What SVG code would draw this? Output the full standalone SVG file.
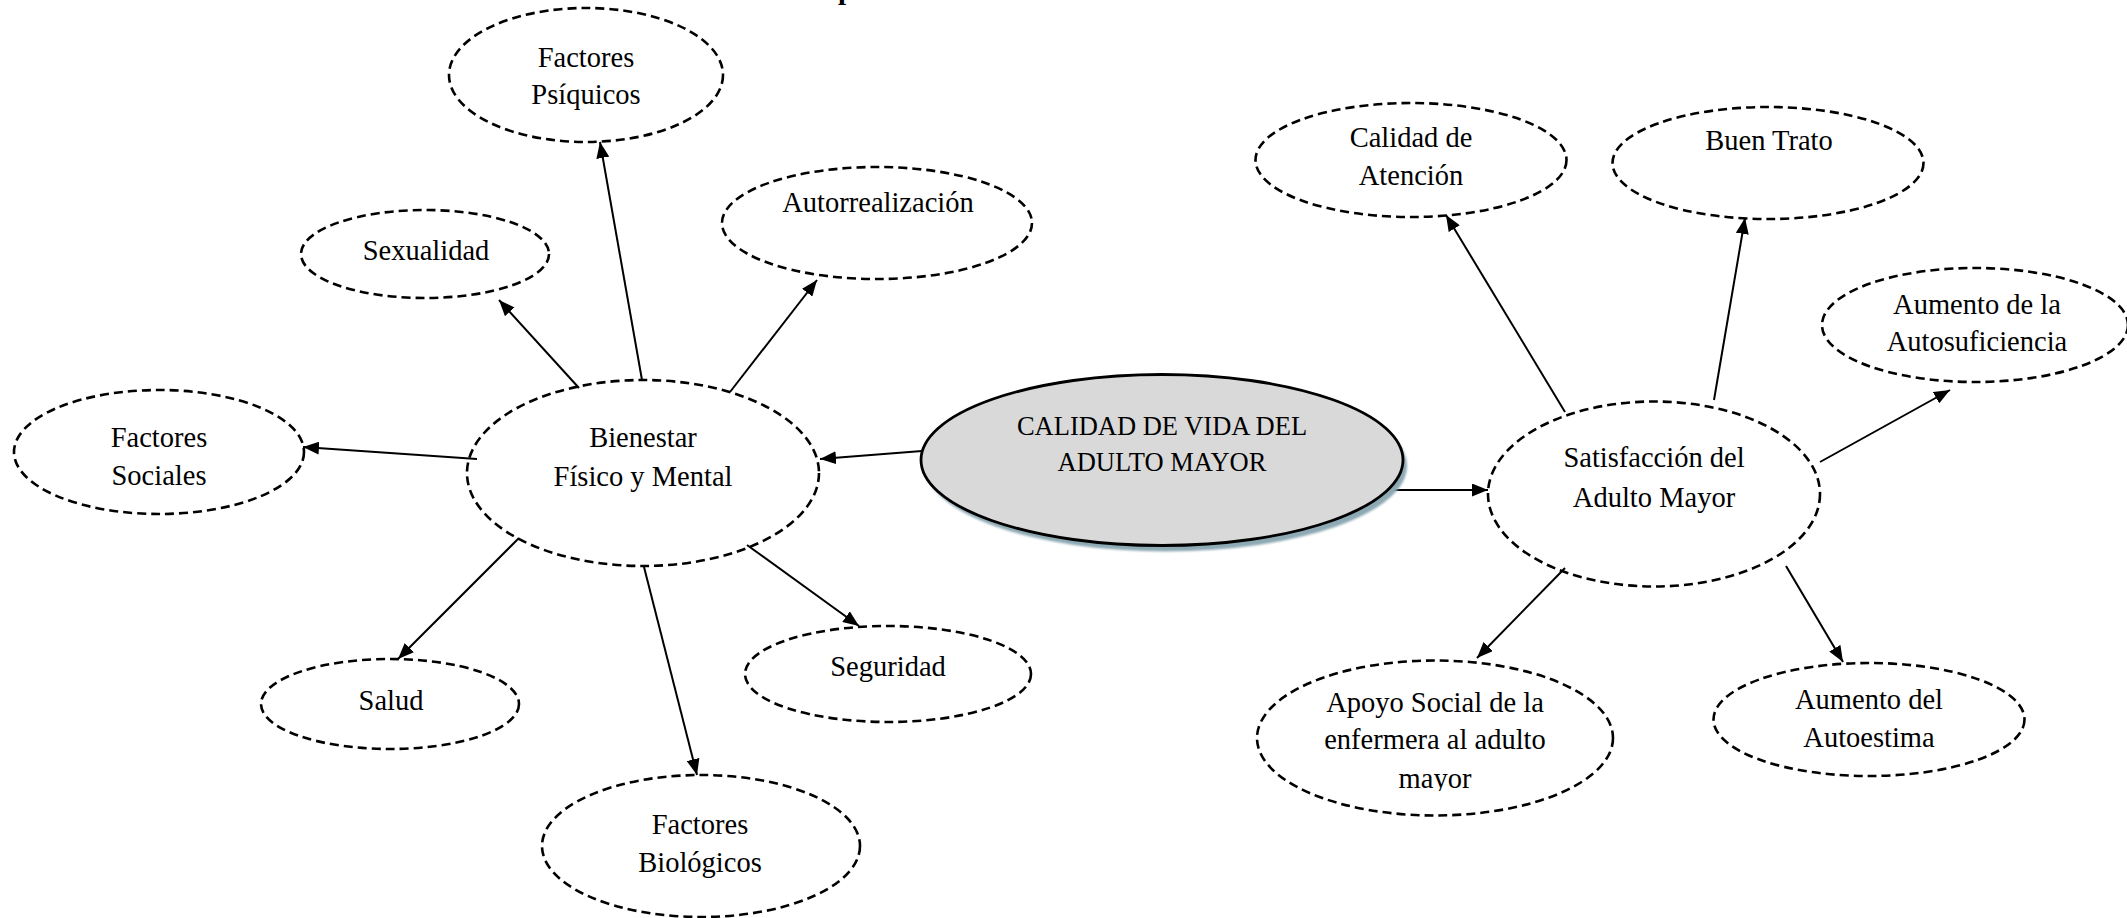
<svg xmlns="http://www.w3.org/2000/svg" width="2127" height="918" viewBox="0 0 2127 918">
<style>
  .n { fill: none; stroke: #000; stroke-width: 2.6; stroke-dasharray: 9 5; }
  .t { font-family: "Liberation Serif", "Times New Roman", serif; font-size: 28.5px; fill: #000; text-anchor: middle; }
  .c { stroke: #000; stroke-width: 2; fill: none; marker-end: url(#ah); }
</style>
<defs>
  <marker id="ah" markerUnits="userSpaceOnUse" markerWidth="16" markerHeight="13" refX="16" refY="6.5" orient="auto">
    <path d="M0,0 L16,6.5 L0,13 z" fill="#000"/>
  </marker>
  <clipPath id="clipApoyo"><rect x="1200" y="650" width="500" height="141"/></clipPath>
  <filter id="blur" x="-10%" y="-10%" width="120%" height="120%"><feGaussianBlur stdDeviation="1.2"/></filter>
</defs>
<rect width="2127" height="918" fill="#fff"/>

<text x="846" y="-1" style="font-family:'Liberation Serif',serif;font-size:29px;font-weight:bold" text-anchor="middle">p</text>

<g id="connectors">
  <line class="c" x1="922" y1="451" x2="820" y2="459"/>
  <line class="c" x1="1392" y1="490" x2="1488" y2="490"/>
  <line class="c" x1="477" y1="459" x2="303" y2="447"/>
  <line class="c" x1="579" y1="388" x2="499" y2="300"/>
  <line class="c" x1="642" y1="380" x2="600" y2="142"/>
  <line class="c" x1="730" y1="392" x2="817" y2="280"/>
  <line class="c" x1="519" y1="538" x2="398" y2="659"/>
  <line class="c" x1="644" y1="567" x2="697" y2="775"/>
  <line class="c" x1="747" y1="545" x2="859" y2="626"/>
  <line class="c" x1="1565" y1="412" x2="1446" y2="215"/>
  <line class="c" x1="1714" y1="400" x2="1745" y2="218"/>
  <line class="c" x1="1820" y1="462" x2="1950" y2="390"/>
  <line class="c" x1="1565" y1="568" x2="1477" y2="658"/>
  <line class="c" x1="1786" y1="566" x2="1843" y2="662"/>
</g>

<g id="central">
  <ellipse cx="1166" cy="466" rx="241" ry="85.5" fill="#8DA9B4" filter="url(#blur)"/>
  <ellipse cx="1162" cy="460" rx="241" ry="85.5" fill="#D9D9D9" stroke="#000" stroke-width="2.8"/>
  <text class="t" style="font-size:26.5px" x="1162" y="435">CALIDAD DE VIDA DEL</text>
  <text class="t" style="font-size:26.5px" x="1162" y="471">ADULTO MAYOR</text>
</g>

<g id="bienestar">
  <ellipse class="n" cx="643" cy="473" rx="176" ry="93"/>
  <text class="t" x="643" y="447">Bienestar</text>
  <text class="t" x="643" y="486">Físico y Mental</text>
</g>

<g id="psiquicos">
  <ellipse class="n" cx="586" cy="75" rx="137" ry="67"/>
  <text class="t" x="586" y="67">Factores</text>
  <text class="t" x="586" y="104">Psíquicos</text>
</g>

<g id="autorrealizacion">
  <ellipse class="n" cx="877" cy="223" rx="155" ry="56"/>
  <text class="t" x="878" y="212">Autorrealización</text>
</g>

<g id="sexualidad">
  <ellipse class="n" cx="425" cy="254" rx="124" ry="44"/>
  <text class="t" x="426" y="260">Sexualidad</text>
</g>

<g id="sociales">
  <ellipse class="n" cx="159" cy="452" rx="145" ry="62"/>
  <text class="t" x="159" y="447">Factores</text>
  <text class="t" x="159" y="485">Sociales</text>
</g>

<g id="salud">
  <ellipse class="n" cx="390" cy="704" rx="129" ry="45"/>
  <text class="t" x="391" y="710">Salud</text>
</g>

<g id="seguridad">
  <ellipse class="n" cx="888" cy="674" rx="143" ry="48"/>
  <text class="t" x="888" y="676">Seguridad</text>
</g>

<g id="biologicos">
  <ellipse class="n" cx="701" cy="846" rx="159" ry="71"/>
  <text class="t" x="700" y="834">Factores</text>
  <text class="t" x="700" y="872">Biológicos</text>
</g>

<g id="satisfaccion">
  <ellipse class="n" cx="1654" cy="494" rx="166" ry="92.5"/>
  <text class="t" x="1654" y="467">Satisfacción del</text>
  <text class="t" x="1654" y="507">Adulto Mayor</text>
</g>

<g id="calidad-atencion">
  <ellipse class="n" cx="1411" cy="160" rx="155.5" ry="57"/>
  <text class="t" x="1411" y="147">Calidad de</text>
  <text class="t" x="1411" y="185">Atención</text>
</g>

<g id="buen-trato">
  <ellipse class="n" cx="1768" cy="163" rx="155.5" ry="56"/>
  <text class="t" x="1769" y="150">Buen Trato</text>
</g>

<g id="autosuficiencia">
  <ellipse class="n" cx="1975" cy="325" rx="153" ry="57"/>
  <text class="t" x="1977" y="314">Aumento de la</text>
  <text class="t" x="1977" y="351">Autosuficiencia</text>
</g>

<g id="apoyo">
  <ellipse class="n" cx="1435" cy="738" rx="178" ry="77.5"/>
  <g clip-path="url(#clipApoyo)">
    <text class="t" x="1435" y="712">Apoyo Social de la</text>
    <text class="t" x="1435" y="749">enfermera al adulto</text>
    <text class="t" x="1435" y="788">mayor</text>
  </g>
</g>

<g id="autoestima">
  <ellipse class="n" cx="1869" cy="719.5" rx="155.5" ry="56.5"/>
  <text class="t" x="1869" y="709">Aumento del</text>
  <text class="t" x="1869" y="747">Autoestima</text>
</g>
</svg>
